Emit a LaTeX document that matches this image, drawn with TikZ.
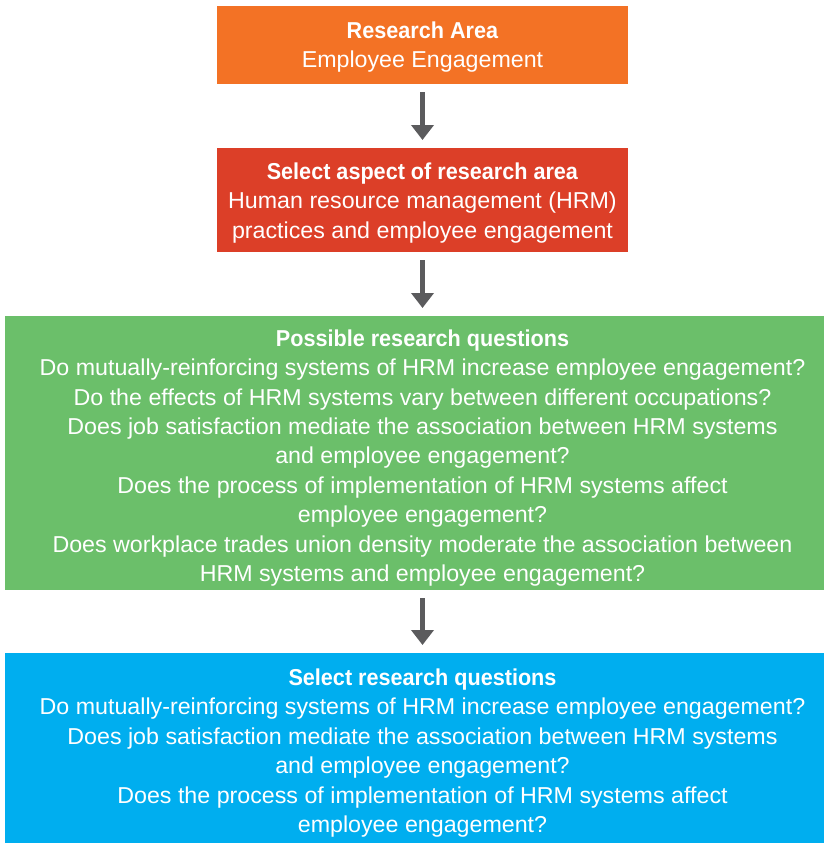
\documentclass[tikz,border=0pt]{standalone}
\usepackage{fontspec}
\setmainfont{Liberation Sans}[FakeStretch=1.01, BoldFeatures={FakeStretch=0.94}]
\usetikzlibrary{arrows.meta}
\definecolor{orangebox}{HTML}{F37225}
\definecolor{redbox}{HTML}{DC3F28}
\definecolor{greenbox}{HTML}{6BBF6A}
\definecolor{bluebox}{HTML}{00AEEF}
\definecolor{arrowgrey}{HTML}{5B5B5D}
\tikzset{
  box/.style={inner sep=0pt, outer sep=0pt},
  txt/.style={inner sep=0pt, align=center, text=white,
    font=\fontsize{23}{29.4}\selectfont},
  flowarrow/.style={draw=arrowgrey, line width=5pt,
    -{Triangle[width=22pt,length=15pt]}, arrowgrey,
    shorten <=8pt, shorten >=8pt}
}
\begin{document}
\begin{tikzpicture}[x=1pt,y=-1pt]
\useasboundingbox (0,0) rectangle (823,843);
\node[box, fill=orangebox, minimum width=411pt, minimum height=78pt] (area) at (422.5,45) {};
\node[box, fill=redbox, minimum width=411pt, minimum height=104pt] (aspect) at (422.5,200) {};
\node[box, fill=greenbox, minimum width=835pt, minimum height=274pt] (possible) at (422.5,453) {};
\node[box, fill=bluebox, minimum width=835pt, minimum height=196pt] (select) at (422.5,751) {};
\node[txt] (areatext) at ([yshift=-2pt]area.center)
  {\textbf{Research Area}\\Employee Engagement};
\node[txt] (aspecttext) at ([yshift=-3pt]aspect.center)
  {\textbf{Select aspect of research area}\\Human resource management (HRM)\\practices and employee engagement};
\node[txt] (possibletext) at ([yshift=-5pt]possible.center)
  {\textbf{Possible research questions}\\
   Do mutually-reinforcing systems of HRM increase employee engagement?\\
   Do the effects of HRM systems vary between different occupations?\\
   Does job satisfaction mediate the association between HRM systems\\
   and employee engagement?\\
   Does the process of implementation of HRM systems affect\\
   employee engagement?\\
   Does workplace trades union density moderate the association between\\
   HRM systems and employee engagement?};
\node[txt] (selecttext) at ([yshift=-2pt]select.center)
  {\textbf{Select research questions}\\
   Do mutually-reinforcing systems of HRM increase employee engagement?\\
   Does job satisfaction mediate the association between HRM systems\\
   and employee engagement?\\
   Does the process of implementation of HRM systems affect\\
   employee engagement?};
\draw[flowarrow] (area) -- (aspect);
\draw[flowarrow] (aspect) -- (possible);
\draw[flowarrow] (possible) -- (select);
\end{tikzpicture}
\end{document}
